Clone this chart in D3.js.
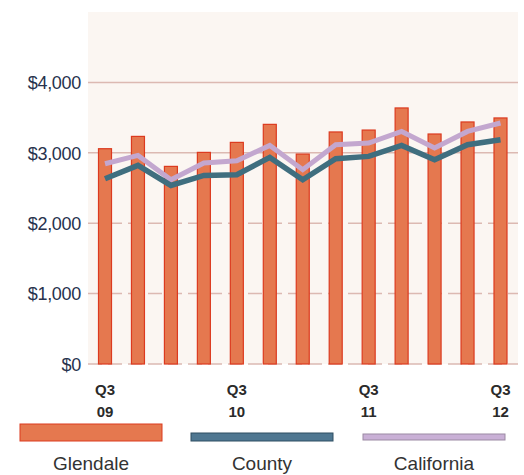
<!DOCTYPE html>
<html><head><meta charset="utf-8">
<script src="https://cdn.jsdelivr.net/npm/d3@7"></script>
<style>body{margin:0;background:#fff}svg{display:block}</style>
</head><body>
<script>
const quarters = ["Q3 09","Q4 09","Q1 10","Q2 10","Q3 10","Q4 10","Q1 11","Q2 11","Q3 11","Q4 11","Q1 12","Q2 12","Q3 12"];
const glendale = [3058,3233,2807,3006,3148,3404,2982,3296,3323,3637,3267,3438,3495];
const county = [2632,2821,2536,2679,2688,2935,2617,2916,2949,3105,2902,3115,3186];
const california = [2845,2963,2617,2855,2888,3105,2760,3115,3139,3304,3068,3304,3423];
const yTicks = [0,1000,2000,3000,4000];
const xTickLabels = [["Q3","09"],["Q3","10"],["Q3","11"],["Q3","12"]];
const xTickIdx = [0,4,8,12];
const legendNames = ["Glendale","County","California"];

const W=524,H=475;
const svg=d3.select("body").append("svg").attr("width",W).attr("height",H);
const plot={left:88,right:518,top:12,bottom:364};
svg.append("rect").attr("x",plot.left).attr("y",plot.top).attr("width",plot.right-plot.left).attr("height",plot.bottom-plot.top).attr("fill","#fbf6f2");

const y=d3.scaleLinear().domain([0,5000]).range([plot.bottom,plot.top]);
const x=d3.scalePoint().domain(quarters).range([105,500.5]);

// gridlines
svg.append("g").selectAll("line").data(yTicks).join("line")
 .attr("x1",plot.left).attr("x2",plot.right)
 .attr("y1",d=>y(d)).attr("y2",d=>y(d))
 .attr("stroke","#dcb9b2").attr("stroke-width",1.5)
 .attr("stroke-dasharray",d=>d>=3000?null:"14,6");

// y axis labels
const yAxis=d3.axisLeft(y).tickValues(yTicks).tickSize(0).tickPadding(0).tickFormat(d=>"$"+d3.format(",")(d));
const ga=svg.append("g").attr("transform","translate(81,0)").call(yAxis);
ga.select(".domain").remove();
ga.selectAll("text").attr("font-family","Liberation Sans, Arial, sans-serif").attr("font-size",18)
 .attr("fill","#27324d").attr("letter-spacing","-0.3").attr("dy","0.35em");

// bars
const bw=13;
svg.append("g").selectAll("rect").data(glendale).join("rect")
 .attr("x",(d,i)=>x(quarters[i])-bw/2).attr("width",bw)
 .attr("y",d=>y(d)).attr("height",d=>y(0)-y(d))
 .attr("fill","#e5784f").attr("stroke","#dc3a1f").attr("stroke-width",1.2);

// lines
const line=d3.line().x((d,i)=>x(quarters[i])).y(d=>y(d));
svg.append("path").datum(california).attr("d",line).attr("fill","none")
 .attr("stroke","#c3a7cf").attr("stroke-width",5).attr("stroke-linejoin","miter");
svg.append("path").datum(county).attr("d",line).attr("fill","none")
 .attr("stroke","#3f6e7f").attr("stroke-width",5.5).attr("stroke-linejoin","miter");

// x labels
const gx=svg.append("g");
xTickIdx.forEach((qi,k)=>{
  const t=gx.append("text").attr("x",x(quarters[qi])).attr("text-anchor","middle")
   .attr("font-family","Liberation Sans, Arial, sans-serif").attr("font-weight","bold")
   .attr("font-size",15).attr("fill","#2a2a2a");
  t.append("tspan").attr("x",x(quarters[qi])).attr("y",395).text(xTickLabels[k][0]);
  t.append("tspan").attr("x",x(quarters[qi])).attr("y",417).text(xTickLabels[k][1]);
});

// legend
const leg=[{x:20,y:424,h:17,fill:"#e5784f",stroke:"#dc3a1f"},{x:191,y:433,h:8,fill:"#4f7791",stroke:"#2f4f63"},{x:363,y:434,h:6,fill:"#c9b0d6",stroke:"#9b8aa3"}];
leg.forEach((l,i)=>{
  svg.append("rect").attr("x",l.x).attr("y",l.y).attr("width",142).attr("height",l.h)
   .attr("fill",l.fill).attr("stroke",l.stroke).attr("stroke-width",1);
  svg.append("text").attr("x",l.x+71).attr("y",470).attr("text-anchor","middle")
   .attr("font-family","Liberation Sans, Arial, sans-serif").attr("font-size",19)
   .attr("fill","#333").text(legendNames[i]);
});
</script>
</body></html>
